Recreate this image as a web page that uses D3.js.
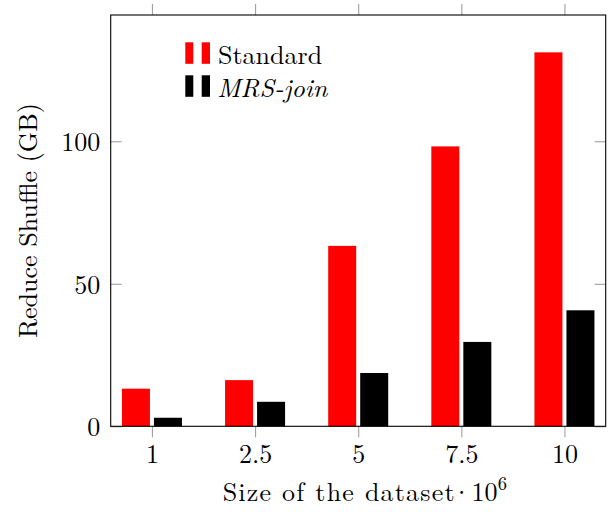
<!DOCTYPE html>
<html>
<head>
<meta charset="utf-8">
<script src="https://cdn.jsdelivr.net/npm/d3@7"></script>
</head>
<body style="margin:0; padding:0; background:#fff;">
<div id="chart"></div>
<script>
// values
const categories = ['1', '2.5', '5', '7.5', '10'];
const standard = [13.2, 16.2, 63.3, 98.2, 131.2];
const mrsJoin = [3.0, 8.6, 18.7, 29.6, 40.7];
const seriesNames = ['Standard', 'MRS-join'];
const seriesColors = ['#ff0000', '#000000'];
const yTicks = [0, 50, 100];

const FONT = '"Latin Modern Roman", "Liberation Serif", serif';
const size = [610, 512];
const margin = {top: 15, right: 4.3, bottom: 85.7, left: 110.7};
const width = size[0] - margin.left - margin.right;
const height = size[1] - margin.top - margin.bottom;

const svg = d3.select('#chart').append('svg')
    .attr('width', size[0])
    .attr('height', size[1]);

const g = svg.append('g')
    .attr('transform', 'translate(' + margin.left + ',' + margin.top + ')');

const x = d3.scalePoint()
    .domain(categories)
    .range([0, width])
    .padding(0.4);

const xSub = d3.scaleBand()
    .domain(seriesNames)
    .range([-30, 30])
    .paddingInner(0.125);

const y = d3.scaleLinear()
    .domain([0, 144.3])
    .range([height, 0]);

const rows = categories.map((c, i) => ({cat: c, values: [standard[i], mrsJoin[i]]}));

// axes (ticks only, the frame is drawn separately)
const tickColor = '#a0a0a0';

const xBottom = g.append('g')
    .attr('transform', 'translate(0,' + height + ')')
    .call(d3.axisBottom(x).tickSize(11).tickSizeOuter(0).tickPadding(7.5));
const xTop = g.append('g')
    .call(d3.axisTop(x).tickSize(11).tickSizeOuter(0).tickFormat(''));
const yLeft = g.append('g')
    .call(d3.axisLeft(y).tickValues(yTicks).tickSize(-11).tickSizeOuter(0).tickPadding(10.5));
const yRight = g.append('g')
    .attr('transform', 'translate(' + width + ',0)')
    .call(d3.axisRight(y).tickValues(yTicks).tickSize(-11).tickSizeOuter(0).tickFormat(''));

[xBottom, xTop, yLeft, yRight].forEach(a => {
    a.attr('font-family', null).attr('font-size', null);
    a.select('.domain').remove();
    a.selectAll('.tick line').attr('stroke', tickColor).attr('stroke-width', 1.1);
    a.selectAll('.tick text')
        .style('font-family', FONT)
        .style('font-size', '26px')
        .attr('fill', '#000');
});
yLeft.selectAll('.tick text').attr('dy', '0.36em');

// bars
const groups = g.append('g').attr('id', 'bars')
    .selectAll('g')
    .data(rows)
    .enter().append('g')
    .attr('transform', d => 'translate(' + x(d.cat) + ',0)');

groups.selectAll('rect')
    .data(d => d.values.map((v, i) => ({name: seriesNames[i], value: v, color: seriesColors[i]})))
    .enter().append('rect')
    .attr('x', d => xSub(d.name))
    .attr('width', xSub.bandwidth())
    .attr('y', d => y(d.value))
    .attr('height', d => height - y(d.value))
    .style('fill', d => d.color);

// frame
g.append('rect')
    .attr('x', 0)
    .attr('y', 0)
    .attr('width', width)
    .attr('height', height)
    .attr('fill', 'none')
    .attr('stroke', '#000')
    .attr('stroke-width', 1.1);

// legend
const legend = g.append('g')
    .attr('transform', 'translate(' + (185.3 - margin.left) + ',' + (42.3 - margin.top) + ')');

seriesNames.forEach((name, i) => {
    const row = legend.append('g').attr('transform', 'translate(0,' + (i * 33) + ')');
    row.append('rect').attr('x', 0).attr('y', 0).attr('width', 8).attr('height', 21.5)
        .style('fill', seriesColors[i]);
    row.append('rect').attr('x', 16.4).attr('y', 0).attr('width', 8.3).attr('height', 21.5)
        .style('fill', seriesColors[i]);
    row.append('text')
        .attr('x', i === 0 ? 32.7 : 32)
        .attr('y', 22)
        .style('font-family', FONT)
        .style('font-size', '26px')
        .style('font-style', i === 0 ? 'normal' : 'italic')
        .text(name);
});

// axis labels
svg.append('text')
    .attr('x', 222.7)
    .attr('y', 500.7)
    .style('font-family', FONT)
    .style('font-size', '26px')
    .style('letter-spacing', '1.2px')
    .text('Size of the dataset');

const xUnit = svg.append('text')
    .attr('x', 451.4)
    .attr('y', 500.7)
    .style('font-family', FONT)
    .style('font-size', '26px')
    .text('\u00B710');
xUnit.append('tspan')
    .attr('dy', -10.5)
    .style('font-size', '18.5px')
    .text('6');

svg.append('text')
    .attr('transform', 'translate(36.7,' + (margin.top + height / 2) + ') rotate(-90)')
    .attr('text-anchor', 'middle')
    .style('font-family', FONT)
    .style('font-size', '26px')
    .text('Reduce Shuffle (GB)');
</script>
</body>
</html>
